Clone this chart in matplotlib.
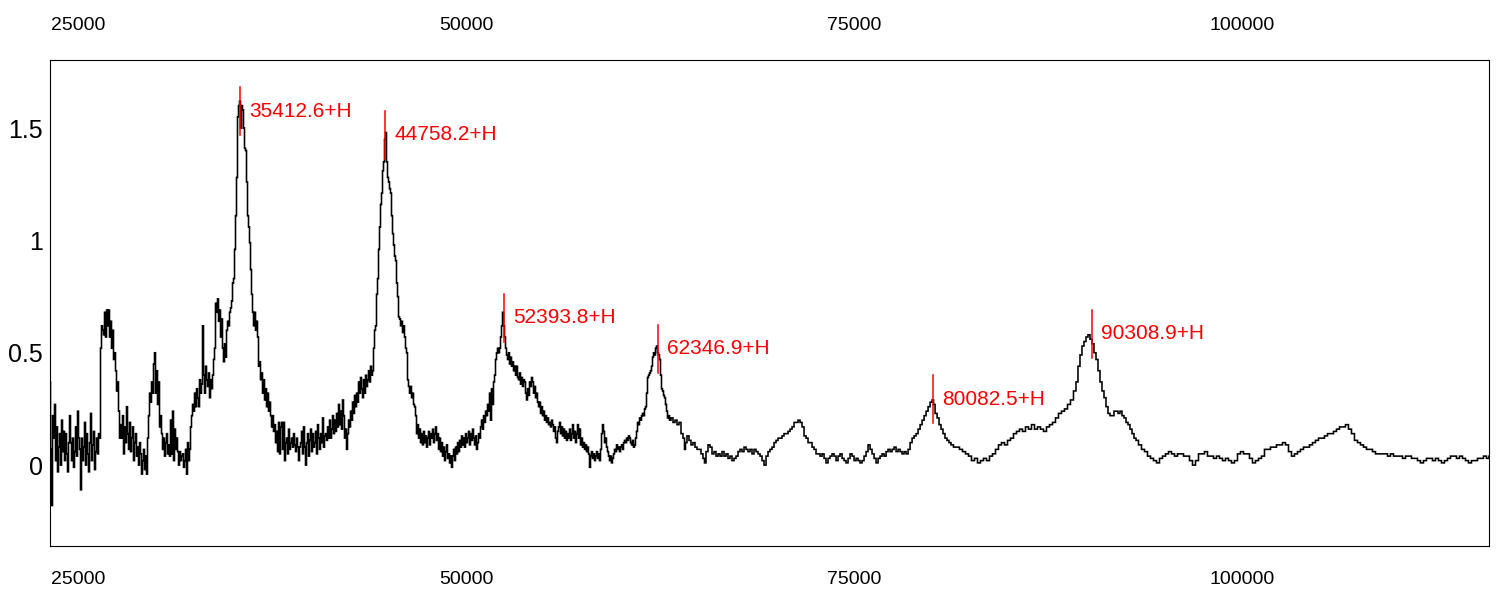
import numpy as np
import matplotlib
matplotlib.use("Agg")
import matplotlib.pyplot as plt
from matplotlib import font_manager

# ---------------- data (mass in Da, relative intensity) ----------------
mass_a = [23099, 23164, 23228, 23292, 23357, 23421, 23486, 23550, 23614, 23679,
          23743, 23808, 23872, 23937, 24001, 24066, 24130, 24194, 24259, 24323,
          24388, 24452, 24517, 24581, 24645, 24710, 24774, 24839, 24903, 24968,
          25032, 25096, 25161, 25225, 25290, 25354, 25419, 25483, 25547, 25612,
          25676, 25741, 25805, 25870, 25934, 25998, 26063, 26127, 26192, 26256,
          26321, 26385]
int_a = [0.14, 0.37, 0.07, -0.18, 0.22, 0.12, 0.27, 0.02, 0.17, -0.03,
         0.08, 0.14, 0.0, 0.2, 0.06, 0.15, 0.02, 0.14, 0.05, -0.03,
         0.1, 0.22, 0.1, 0.02, 0.12, -0.01, 0.06, 0.17, 0.04, 0.24,
         0.12, 0.07, -0.11, 0.12, 0.02, 0.08, 0.19, 0.0, 0.14, 0.05,
         -0.03, 0.1, 0.23, 0.02, 0.09, 0.15, -0.02, 0.06, 0.12, 0.05,
         0.14, 0.12]

mass_b = [26449, 26514, 26578, 26643, 26707, 26772, 26836, 26900, 26965, 27029,
          27094, 27158, 27223, 27287, 27351, 27416, 27480, 27545, 27609, 27674,
          27738, 27802, 27867, 27931, 27996, 28060, 28125, 28189, 28253, 28318,
          28382, 28447, 28511, 28575, 28640, 28704, 28769, 28833, 28898, 28962,
          29026, 29091, 29155, 29220, 29284, 29349, 29413, 29477, 29542, 29607,
          29671, 29735, 29800, 29864, 29929, 29993, 30058, 30122, 30186, 30251,
          30315, 30380, 30444, 30509, 30573, 30637, 30702, 30766, 30831, 30895,
          30960, 31024, 31088, 31153, 31217, 31282, 31346, 31411, 31475, 31539,
          31604, 31668, 31733, 31797, 31862, 31926, 31990, 32055, 32119, 32184,
          32248, 32313, 32377, 32441, 32506, 32570, 32635, 32699, 32764, 32828,
          32892, 32957, 33021, 33086, 33150, 33215, 33279, 33343, 33408, 33472,
          33537, 33601, 33666, 33730, 33794, 33859, 33923, 33988, 34052, 34117,
          34181, 34245, 34310, 34374, 34439, 34503, 34568, 34632, 34696, 34761]
int_b = [0.52, 0.62, 0.6, 0.58, 0.68, 0.57, 0.69, 0.62, 0.69, 0.57,
         0.64, 0.52, 0.6, 0.47, 0.5, 0.42, 0.33, 0.37, 0.24, 0.12,
         0.18, 0.12, 0.22, 0.05, 0.17, 0.1, 0.26, 0.14, 0.07, 0.19,
         0.06, 0.12, 0.17, 0.02, 0.1, 0.14, 0.04, 0.08, 0.0, 0.1,
         0.05, -0.04, 0.02, 0.07, -0.02, 0.04, -0.04, 0.12, 0.22, 0.32,
         0.28, 0.37, 0.32, 0.45, 0.5, 0.32, 0.42, 0.27, 0.37, 0.17,
         0.22, 0.14, 0.07, 0.12, 0.04, 0.1, 0.14, 0.05, 0.09, 0.04,
         0.2, 0.05, 0.24, 0.02, 0.16, 0.07, 0.12, 0.06, 0.0, 0.06,
         0.02, 0.04, 0.05, -0.01, 0.02, 0.07, -0.04, 0.1, 0.02, 0.07,
         0.17, 0.22, 0.27, 0.24, 0.32, 0.26, 0.34, 0.3, 0.26, 0.38,
         0.32, 0.36, 0.62, 0.4, 0.32, 0.44, 0.38, 0.35, 0.41, 0.3,
         0.38, 0.34, 0.4, 0.47, 0.52, 0.72, 0.68, 0.74, 0.64, 0.69,
         0.57, 0.65, 0.52, 0.46, 0.54, 0.48, 0.6, 0.64, 0.62, 0.68]

mass_c = [34825, 34890, 34954, 35019, 35083, 35147, 35212, 35276, 35341, 35405,
          35470, 35534, 35598, 35663, 35727, 35792, 35856, 35921, 35985, 36050,
          36114, 36178, 36243, 36307, 36372, 36436, 36501, 36565, 36629, 36694,
          36758, 36823, 36887, 36952, 37016, 37080, 37145, 37209, 37274, 37338,
          37403, 37467, 37531, 37596, 37660, 37725, 37789, 37854, 37918, 37982,
          38047, 38111, 38176, 38240, 38305, 38369, 38433, 38498, 38562, 38627,
          38691, 38756, 38820, 38884, 38949, 39013, 39078, 39142, 39207, 39271]
int_c = [0.7, 0.73, 0.81, 0.83, 0.96, 1.11, 1.28, 1.55, 1.6, 1.62,
         1.5, 1.6, 1.58, 1.5, 1.41, 1.4, 1.26, 1.11, 1.06, 0.99,
         0.87, 0.76, 0.68, 0.62, 0.68, 0.6, 0.64, 0.57, 0.44, 0.46,
         0.38, 0.41, 0.32, 0.38, 0.29, 0.34, 0.26, 0.32, 0.24, 0.28,
         0.22, 0.17, 0.22, 0.15, 0.18, 0.1, 0.15, 0.06, 0.19, 0.05,
         0.17, 0.19, 0.07, 0.19, 0.02, 0.1, 0.12, 0.05, 0.16, 0.07,
         0.1, 0.12, 0.08, 0.14, 0.09, 0.06, 0.12, 0.08, 0.02, 0.08]

mass_d = [39335, 39400, 39464, 39529, 39593, 39658, 39722, 39786, 39851, 39915,
          39980, 40044, 40109, 40173, 40238, 40302, 40366, 40431, 40495, 40560,
          40624, 40689, 40753, 40817, 40882, 40946, 41011, 41075, 41140, 41204,
          41268, 41333, 41397, 41462, 41526, 41591, 41655, 41719, 41784, 41848,
          41913, 41977, 42042, 42106, 42170, 42235, 42299, 42364, 42428, 42493,
          42557, 42621, 42686, 42750, 42815, 42879, 42944, 43008, 43072, 43137,
          43201, 43266, 43330, 43395, 43459, 43523, 43588, 43652, 43717, 43781,
          43846, 43910, 43974, 44039, 44103, 44168, 44232, 44297, 44361, 44425,
          44490, 44554, 44619, 44683, 44748, 44812, 44876, 44941, 45005, 45070,
          45134, 45199, 45263, 45327, 45392, 45456, 45521, 45585, 45650, 45714,
          45778, 45843, 45907, 45972, 46036, 46101, 46165, 46229, 46294, 46358,
          46423, 46487, 46552, 46616, 46680, 46745, 46809, 46874, 46938, 47003,
          47067, 47131, 47196, 47260, 47325, 47389, 47454, 47518, 47582, 47647,
          47711, 47776, 47840, 47905, 47969, 48033, 48098, 48162, 48227, 48291,
          48356, 48420, 48484, 48549, 48613, 48678, 48742, 48807, 48871, 48936,
          49000, 49064, 49129, 49193, 49258, 49322, 49387, 49451, 49515, 49580,
          49644, 49709, 49773, 49838, 49902, 49966, 50031, 50095, 50160, 50224,
          50289, 50353, 50417, 50482, 50546, 50611, 50675, 50740, 50804, 50868]
int_d = [0.1, 0.15, 0.05, 0.17, 0.08, 0.0, 0.1, 0.14, 0.04, 0.11,
         0.16, 0.06, 0.14, 0.08, 0.1, 0.15, 0.05, 0.18, 0.12, 0.07,
         0.14, 0.1, 0.21, 0.08, 0.13, 0.14, 0.11, 0.17, 0.12, 0.2,
         0.12, 0.16, 0.22, 0.14, 0.2, 0.15, 0.23, 0.17, 0.27, 0.18,
         0.24, 0.16, 0.29, 0.22, 0.12, 0.16, 0.07, 0.14, 0.2, 0.17,
         0.24, 0.2, 0.28, 0.23, 0.31, 0.26, 0.32, 0.28, 0.37, 0.32,
         0.39, 0.34, 0.3, 0.38, 0.32, 0.4, 0.35, 0.38, 0.42, 0.37,
         0.44, 0.4, 0.42, 0.52, 0.6, 0.62, 0.76, 0.83, 0.96, 1.06,
         1.16, 1.21, 1.31, 1.35, 1.45, 1.48, 1.35, 1.28, 1.26, 1.23,
         1.21, 1.11, 1.03, 0.98, 0.93, 0.91, 0.81, 0.75, 0.66, 0.65,
         0.62, 0.64, 0.59, 0.62, 0.57, 0.52, 0.5, 0.38, 0.35, 0.32,
         0.35, 0.3, 0.32, 0.27, 0.26, 0.22, 0.14, 0.18, 0.12, 0.16,
         0.1, 0.14, 0.09, 0.15, 0.1, 0.13, 0.08, 0.12, 0.15, 0.09,
         0.14, 0.12, 0.16, 0.1, 0.14, 0.17, 0.11, 0.14, 0.07, 0.12,
         0.06, 0.1, 0.04, 0.08, 0.02, 0.06, 0.09, 0.03, 0.05, 0.01,
         0.04, -0.01, 0.04, 0.07, 0.02, 0.08, 0.05, 0.1, 0.06, 0.11,
         0.08, 0.13, 0.09, 0.12, 0.08, 0.14, 0.1, 0.12, 0.15, 0.09,
         0.14, 0.11, 0.16, 0.12, 0.09, 0.13, 0.07, 0.1, 0.14, 0.12]

mass_e = [50933, 50997, 51062, 51126, 51191, 51255, 51319, 51384, 51448, 51513,
          51577, 51642, 51706, 51770, 51835, 51899, 51964, 52028, 52093, 52157,
          52221, 52286, 52350, 52415, 52479, 52544, 52608, 52672, 52737, 52801,
          52866, 52930, 52995, 53059, 53123, 53188, 53252, 53317, 53381, 53446,
          53510, 53574, 53639, 53703, 53768, 53832, 53897, 53961, 54025, 54090,
          54154, 54219, 54283, 54348, 54412, 54476, 54541, 54605, 54670, 54734,
          54799, 54863, 54927, 54992, 55056, 55121, 55185, 55250, 55314, 55379,
          55443, 55507, 55572, 55636, 55701, 55765, 55829, 55894, 55958, 56023,
          56087, 56152, 56216, 56280, 56345, 56409, 56474, 56538, 56603, 56667,
          56731, 56796, 56860, 56925, 56989, 57054, 57118, 57182, 57247, 57311,
          57376, 57440, 57505, 57569, 57633, 57698, 57762, 57827, 57891, 57956,
          58020, 58084, 58149, 58213, 58278, 58342, 58407, 58471, 58535, 58600,
          58664, 58729, 58793, 58858, 58922, 58986, 59051, 59115, 59180, 59244,
          59309, 59373, 59437, 59502, 59566, 59631, 59695, 59760, 59824, 59889,
          59953, 60017, 60082, 60146, 60211, 60275, 60340, 60404, 60468, 60533,
          60597, 60662, 60726, 60791, 60855, 60919, 60984, 61048, 61113, 61177,
          61242, 61306, 61370, 61435, 61499, 61564, 61628, 61693, 61757, 61822,
          61886, 61950, 62015, 62079, 62144, 62208, 62273, 62337, 62401, 62466,
          62530, 62595, 62659, 62724, 62788, 62852, 62917, 62981, 63046, 63110]
int_e = [0.17, 0.2, 0.16, 0.22, 0.19, 0.24, 0.22, 0.27, 0.24, 0.32,
         0.2, 0.34, 0.27, 0.37, 0.4, 0.47, 0.5, 0.52, 0.5, 0.52,
         0.57, 0.62, 0.68, 0.62, 0.57, 0.52, 0.49, 0.47, 0.5, 0.45,
         0.48, 0.44, 0.46, 0.42, 0.44, 0.4, 0.44, 0.39, 0.38, 0.41,
         0.36, 0.39, 0.35, 0.38, 0.37, 0.32, 0.29, 0.34, 0.31, 0.37,
         0.35, 0.39, 0.37, 0.32, 0.35, 0.3, 0.32, 0.28, 0.26, 0.28,
         0.23, 0.26, 0.22, 0.24, 0.2, 0.22, 0.19, 0.21, 0.18, 0.19,
         0.17, 0.2, 0.18, 0.15, 0.17, 0.12, 0.1, 0.15, 0.17, 0.19,
         0.14, 0.17, 0.13, 0.16, 0.12, 0.15, 0.11, 0.14, 0.12, 0.16,
         0.11, 0.14, 0.18, 0.12, 0.15, 0.1, 0.14, 0.18, 0.12, 0.16,
         0.09, 0.12, 0.08, 0.1, 0.07, 0.09, 0.06, 0.08, 0.05, -0.01,
         0.04, 0.06, 0.03, 0.05, 0.02, 0.04, 0.06, 0.03, 0.05, 0.02,
         0.07, 0.14, 0.18, 0.15, 0.1, 0.12, 0.08, 0.06, 0.04, 0.02,
         0.04, 0.01, 0.03, 0.05, 0.07, 0.06, 0.09, 0.07, 0.08, 0.06,
         0.08, 0.09, 0.07, 0.1, 0.11, 0.1, 0.12, 0.11, 0.13, 0.12,
         0.1, 0.09, 0.11, 0.08, 0.09, 0.12, 0.15, 0.19, 0.18, 0.21,
         0.2, 0.22, 0.23, 0.22, 0.25, 0.26, 0.32, 0.39, 0.4, 0.41,
         0.42, 0.44, 0.48, 0.5, 0.49, 0.52, 0.53, 0.5, 0.49, 0.47,
         0.4, 0.34, 0.33, 0.31, 0.3, 0.27, 0.24, 0.21, 0.22, 0.2]

mass_f = [63239, 63368, 63497, 63626, 63755, 63883, 64012, 64077, 64141, 64270,
          64399, 64528, 64657, 64786, 64915, 65043, 65172, 65301, 65365, 65494,
          65623, 65752, 65881, 66010, 66139, 66268, 66397, 66526, 66654, 66783,
          66912, 67041, 67170, 67299, 67428, 67557, 67686, 67815, 67944, 68072,
          68201, 68330, 68459, 68588, 68717, 68846, 68975, 69104, 69233, 69362,
          69490, 69619, 69748, 69877, 70006, 70135, 70264, 70393, 70522, 70651,
          70780, 70908, 71037, 71166, 71295, 71424, 71553, 71682, 71811, 71940,
          72069, 72198, 72327, 72455, 72584, 72713, 72842, 72971, 73100, 73229,
          73358, 73487, 73616, 73745, 73873, 74002, 74131, 74260, 74389, 74518,
          74647, 74776, 74905, 75034, 75163, 75291, 75420, 75549, 75678, 75807,
          75936, 76065, 76194, 76323, 76452, 76581, 76709, 76838, 76967, 77096,
          77225, 77354, 77483, 77612, 77741, 77870, 77999, 78127, 78256, 78385,
          78514, 78643, 78772, 78901, 79030, 79159, 79288, 79417, 79545, 79674,
          79803, 79932, 80061, 80125, 80254, 80383, 80506, 80635, 80764, 80893,
          81022, 81151, 81279, 81473, 81666, 81859, 82053, 82246, 82439, 82633,
          82826, 83019, 83212, 83406, 83599, 83792, 83986, 84179, 84372]
int_f = [0.21, 0.19, 0.2, 0.18, 0.19, 0.14, 0.12, 0.07, 0.1, 0.13,
         0.11, 0.09, 0.1, 0.08, 0.07, 0.07, 0.05, 0.03, 0.01, 0.06,
         0.09, 0.08, 0.05, 0.06, 0.04, 0.05, 0.04, 0.06, 0.04, 0.05,
         0.03, 0.04, 0.02, 0.03, 0.04, 0.06, 0.07, 0.06, 0.08, 0.07,
         0.06, 0.07, 0.05, 0.07, 0.06, 0.05, 0.04, 0.02, 0.0, 0.04,
         0.06, 0.07, 0.08, 0.1, 0.11, 0.12, 0.12, 0.13, 0.14, 0.14,
         0.15, 0.16, 0.17, 0.19, 0.19, 0.2, 0.19, 0.17, 0.13, 0.12,
         0.1, 0.1, 0.08, 0.07, 0.05, 0.05, 0.04, 0.05, 0.03, 0.01,
         0.03, 0.04, 0.05, 0.04, 0.02, 0.04, 0.05, 0.03, 0.02, 0.01,
         0.03, 0.05, 0.04, 0.02, 0.03, 0.02, 0.01, 0.02, 0.04, 0.06,
         0.09, 0.07, 0.05, 0.03, 0.01, 0.03, 0.04, 0.05, 0.04, 0.06,
         0.07, 0.06, 0.07, 0.08, 0.06, 0.07, 0.06, 0.05, 0.06, 0.05,
         0.07, 0.1, 0.12, 0.13, 0.14, 0.16, 0.18, 0.2, 0.22, 0.24,
         0.26, 0.28, 0.29, 0.27, 0.23, 0.21, 0.18, 0.16, 0.14, 0.12,
         0.11, 0.1, 0.09, 0.08, 0.08, 0.07, 0.06, 0.05, 0.04, 0.02,
         0.03, 0.01, 0.02, 0.03, 0.02, 0.04, 0.05, 0.07, 0.09]

mass_g = [84565, 84759, 84952, 85145, 85339, 85532, 85725, 85918, 86112, 86305,
          86498, 86692, 86885, 87078, 87271, 87465, 87658, 87851, 88045, 88238,
          88431, 88624, 88818, 89011, 89204, 89333, 89462, 89591, 89720, 89848,
          89977, 90106, 90235, 90364, 90493, 90622, 90751, 90880, 91009, 91138,
          91266, 91395, 91524, 91653, 91782, 91911, 92040, 92169, 92298, 92427,
          92556, 92684, 92813, 92942, 93071, 93200, 93393, 93587, 93780, 93973,
          94167, 94360, 94553, 94746, 94940, 95133, 95326, 95520, 95713, 95906,
          96099, 96293, 96486, 96679, 96873, 97066, 97258, 97451, 97645, 97838,
          98031, 98225, 98418, 98611, 98804, 98998, 99191, 99384, 99578, 99771,
          99964, 100158, 100351, 100544, 100737, 100931, 101124, 101317, 101511, 101704,
          101897, 102090, 102284, 102477, 102670, 102864, 103057, 103250, 103443, 103637,
          103830, 104023, 104217, 104410, 104603, 104797, 104990, 105183, 105376, 105570,
          105763, 105956, 106150, 106343, 106536, 106729, 106923, 107116, 107309, 107503,
          107696, 107889, 108082, 108276, 108469, 108662, 108856, 109049, 109242, 109435,
          109629, 109822, 110015, 110209, 110402, 110595, 110788, 110982, 111175, 111368,
          111562, 111755, 111948, 112141, 112335, 112528, 112721, 112915, 113108, 113301,
          113494, 113688, 113881, 114074, 114268, 114461, 114654, 114847, 115041, 115234,
          115427, 115621, 115814, 115943]
int_g = [0.1, 0.09, 0.11, 0.12, 0.14, 0.15, 0.16, 0.15, 0.17, 0.16,
         0.18, 0.16, 0.17, 0.16, 0.15, 0.17, 0.18, 0.19, 0.21, 0.23,
         0.24, 0.25, 0.27, 0.29, 0.33, 0.37, 0.44, 0.49, 0.53, 0.55,
         0.57, 0.58, 0.56, 0.54, 0.5, 0.47, 0.42, 0.37, 0.33, 0.3,
         0.26, 0.23, 0.22, 0.22, 0.24, 0.24, 0.23, 0.24, 0.22, 0.21,
         0.19, 0.18, 0.16, 0.14, 0.12, 0.11, 0.09, 0.07, 0.06, 0.04,
         0.03, 0.02, 0.01, 0.03, 0.04, 0.05, 0.06, 0.05, 0.04, 0.05,
         0.05, 0.04, 0.04, 0.02, 0.0, 0.02, 0.05, 0.05, 0.06, 0.04,
         0.04, 0.03, 0.04, 0.03, 0.02, 0.03, 0.02, 0.01, 0.02, 0.05,
         0.06, 0.05, 0.05, 0.03, 0.01, 0.02, 0.03, 0.04, 0.07, 0.07,
         0.08, 0.08, 0.09, 0.09, 0.1, 0.09, 0.06, 0.04, 0.05, 0.06,
         0.07, 0.08, 0.08, 0.09, 0.1, 0.11, 0.12, 0.12, 0.13, 0.14,
         0.14, 0.15, 0.16, 0.17, 0.17, 0.18, 0.16, 0.14, 0.11, 0.1,
         0.09, 0.08, 0.07, 0.07, 0.06, 0.05, 0.05, 0.05, 0.05, 0.04,
         0.05, 0.04, 0.04, 0.04, 0.03, 0.04, 0.04, 0.03, 0.03, 0.02,
         0.01, 0.02, 0.03, 0.03, 0.02, 0.03, 0.02, 0.01, 0.02, 0.03,
         0.04, 0.04, 0.03, 0.04, 0.03, 0.02, 0.01, 0.02, 0.02, 0.03,
         0.03, 0.04, 0.03, 0.04]

peak_mass = [35412.6, 44758.2, 52393.8, 62346.9, 80082.5, 90308.9]
peak_int = [1.575, 1.47, 0.656, 0.518, 0.294, 0.585]
peak_labels = ["35412.6+H", "44758.2+H", "52393.8+H", "62346.9+H", "80082.5+H", "90308.9+H"]

x_ticks = [25000, 50000, 75000, 100000]
y_ticks = [0, 0.5, 1, 1.5]
y_ticklabels = ["0", "0.5", "1", "1.5"]

segments = [(mass_a, int_a), (mass_b, int_b), (mass_c, int_c), (mass_d, int_d),
            (mass_e, int_e), (mass_f, int_f), (mass_g, int_g)]
for m, v in segments:
    assert len(m) == len(v), (len(m), len(v))
mass = np.concatenate([np.asarray(m, float) for m, _ in segments])
inten = np.concatenate([np.asarray(v, float) for _, v in segments])

# ---------------- drawing ----------------
names = {f.name for f in font_manager.fontManager.ttflist}
base_font = "Liberation Sans" if "Liberation Sans" in names else "DejaVu Sans"
plt.rcParams["font.family"] = [base_font, "DejaVu Sans"]
if "Liberation Sans Narrow" in names:
    label_font, label_size = "Liberation Sans Narrow", 18
else:
    label_font, label_size = base_font, 15

fig = plt.figure(figsize=(14.98, 5.92), dpi=100)
ax = fig.add_axes([49.5 / 1498, (592 - 546) / 592, (1489 - 49.5) / 1498, (546 - 59.5) / 592])

ax.plot(mass, inten, color="black", lw=1.15, drawstyle="steps-mid", solid_joinstyle="miter")

half = 0.107
for pm, pi, lab in zip(peak_mass, peak_int, peak_labels):
    ax.plot([pm, pm], [pi - half, pi + half], color="#ff0000", lw=1.1)
    ax.annotate(lab, xy=(pm, pi), xytext=(6.5, 0), textcoords="offset points",
                ha="left", va="center", color="#ff0000",
                fontsize=label_size, family=[label_font, "DejaVu Sans"])

ax.set_xlim(23131, 115880)
ax.set_ylim(-0.36, 1.805)

ax.set_xticks(x_ticks)
ax.set_xticklabels([str(t) for t in x_ticks])
ax.set_yticks(y_ticks)
ax.set_yticklabels(y_ticklabels)
ax.tick_params(axis="x", which="both", length=0, labelsize=14, top=True, labeltop=True,
               bottom=True, labelbottom=True, pad=18)
ax.tick_params(axis="y", length=0, labelsize=18, pad=5)
for s in ax.spines.values():
    s.set_linewidth(0.8)
    s.set_color("black")

fig.savefig("out.png", dpi=100)
